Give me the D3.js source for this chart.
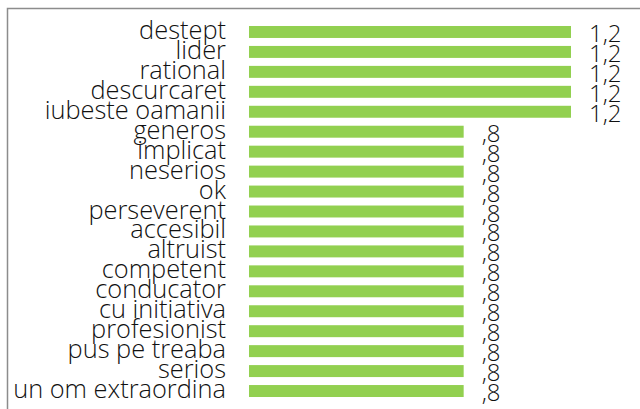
<!DOCTYPE html>
<html><head><meta charset="utf-8">
<script src="https://cdn.jsdelivr.net/npm/d3@7"></script>
<style>body{margin:0;background:#fff}svg{display:block}text{font-variant-ligatures:none;font-feature-settings:"liga" 0,"clig" 0}</style>
</head><body>
<script>
const categories = ["destept","lider","rational","descurcaret","iubeste oamanii","generos","implicat","neserios","ok","perseverent","accesibil","altruist","competent","conducator","cu initiativa","profesionist","pus pe treaba","serios","un om extraordina"];
const values = [1.2,1.2,1.2,1.2,1.2,0.8,0.8,0.8,0.8,0.8,0.8,0.8,0.8,0.8,0.8,0.8,0.8,0.8,0.8];
const valueLabels = ["1,2","1,2","1,2","1,2","1,2",",8",",8",",8",",8",",8",",8",",8",",8",",8",",8",",8",",8",",8",",8"];

const W = 640, H = 409;
const svg = d3.select("body").append("svg").attr("width", W).attr("height", H);
svg.append("rect").attr("x", 7.5).attr("y", 8.5).attr("width", 700).attr("height", 500)
  .attr("fill", "none").attr("stroke", "#8c8c8c").attr("stroke-width", 1.5);

const x = d3.scaleLinear().domain([0, 1.2]).range([249, 571]);
const y = d3.scaleBand().domain(categories).range([22, 401]).paddingInner(0.4).paddingOuter(0.2);

const font = "'Open Sans', Lato, sans-serif";
svg.selectAll("rect.bar").data(values).join("rect").attr("class", "bar")
  .attr("x", x(0)).attr("y", (d, i) => y(categories[i]))
  .attr("width", d => x(d) - x(0)).attr("height", y.bandwidth())
  .attr("fill", "#92d050");

const lab = svg.selectAll("text.cat").data(categories).join("text").attr("class", "cat")
  .attr("x", 226).attr("y", d => y(d) + y.bandwidth() / 2 + 7)
  .attr("text-anchor", "end").attr("font-family", font).attr("font-weight", 300).attr("font-size", 21)
  .attr("fill", "#111").text(d => d);

// fit width of longest label to reference (~213px)
const longest = lab.filter((d) => d === "un om extraordina").node().getComputedTextLength();
const fs = 21 * 213 / longest;
lab.attr("font-size", fs);

svg.selectAll("text.val").data(values).join("text").attr("class", "val")
  .attr("x", d => x(d) + 18).attr("y", (d, i) => y(categories[i]) + y.bandwidth() / 2 + 10)
  .attr("font-family", font).attr("font-weight", 300).attr("font-size", 24).attr("fill", "#111")
  .text((d, i) => valueLabels[i]);
</script>
</body></html>
